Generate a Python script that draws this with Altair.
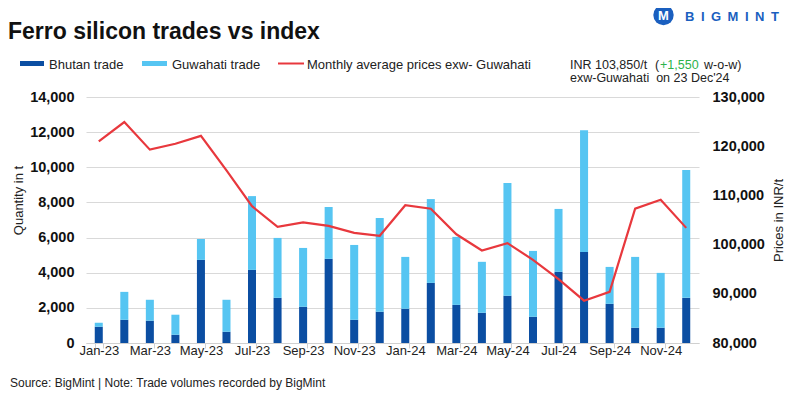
import altair as alt
import pandas as pd

months = ["Jan-23", "Feb-23", "Mar-23", "Apr-23", "May-23", "Jun-23",
          "Jul-23", "Aug-23", "Sep-23", "Oct-23", "Nov-23", "Dec-23",
          "Jan-24", "Feb-24", "Mar-24", "Apr-24", "May-24", "Jun-24",
          "Jul-24", "Aug-24", "Sep-24", "Oct-24", "Nov-24", "Dec-24"]
bhutan = [920, 1320, 1270, 470, 4730, 640, 4160, 2570, 2060, 4790, 1320, 1780,
          1950, 3420, 2170, 1720, 2690, 1490, 4050, 5180, 2230, 870, 870, 2570]
guwahati = [230, 1590, 1190, 1140, 1190, 1820, 4200, 3410, 3350, 2950, 4260, 5340,
            2950, 4770, 3870, 2900, 6410, 3750, 3580, 6930, 2100, 4030, 3120, 7270]
prices = [121000, 124900, 119300, 120500, 122100, 115100, 107800, 103600, 104500,
          103800, 102400, 101800, 108000, 107300, 102100, 98800, 100300, 96900,
          93000, 88600, 90400, 107300, 109100, 103400]
series = ["Bhutan trade", "Guwahati trade"]
colors = ["#0b4ea2", "#56c5f2"]
line_name = "Monthly average prices exw- Guwahati"
qty_ticks = [0, 2000, 4000, 6000, 8000, 10000, 12000, 14000]
price_ticks = [80000, 90000, 100000, 110000, 120000, 130000]

RED = "#e8383d"
FONT = "Liberation Sans"

rows = []
for i, m in enumerate(months):
    rows.append({"month": m, "series": series[0], "qty": bhutan[i], "ord": 0})
    rows.append({"month": m, "series": series[1], "qty": guwahati[i], "ord": 1})
bar_df = pd.DataFrame(rows)
line_df = pd.DataFrame({"month": months, "price": prices})
one = pd.DataFrame({"a": [0]})

x_enc = alt.X(
    "month:O", sort=months,
    scale=alt.Scale(paddingInner=0.686, paddingOuter=0.343),
    axis=alt.Axis(values=months[::2], labelAngle=0, title=None, tickBand="extent",
                  tickColor="#d0d0d0", tickSize=5, domainColor="#d0d0d0", grid=False,
                  labelFont=FONT, labelFontSize=13, labelColor="#222222",
                  labelBaseline="alphabetic", labelPadding=6),
)

bars = alt.Chart(bar_df).mark_bar().encode(
    x=x_enc,
    y=alt.Y("qty:Q", stack="zero",
            scale=alt.Scale(domain=[0, 14000], nice=False),
            axis=alt.Axis(values=qty_ticks, format=",.0f", ticks=False, domain=False,
                          grid=True, gridColor="#d9d9d9", labelFont=FONT,
                          labelFontSize=14.5, labelFontWeight="bold", labelColor="#111111",
                          labelPadding=12, title="Quantity in t", titleFont=FONT,
                          titleFontSize=13, titleFontWeight="normal", titleColor="#222222",
                          titleAngle=270, titleX=-64, titleY=103, titleAlign="center",
                          titleBaseline="alphabetic")),
    color=alt.Color("series:N", scale=alt.Scale(domain=series, range=colors), legend=None),
    order=alt.Order("ord:Q"),
)

line = alt.Chart(line_df).mark_line(color=RED, strokeWidth=2.2).encode(
    x=x_enc,
    y=alt.Y("price:Q", scale=alt.Scale(domain=[80000, 130000], nice=False),
            axis=alt.Axis(orient="right", values=price_ticks, format=",.0f", ticks=False,
                          domain=False, grid=False, labelFont=FONT, labelFontSize=14.5,
                          labelFontWeight="bold", labelColor="#111111", labelPadding=13,
                          title="Prices in INR/t", titleFont=FONT, titleFontSize=13,
                          titleFontWeight="normal", titleColor="#222222", titleAngle=270,
                          titleX=83, titleY=123, titleAlign="center",
                          titleBaseline="alphabetic")),
)


def txt(text, x, y, size=13, weight="normal", color="#222222", align="left",
        baseline="alphabetic"):
    return alt.Chart(one).mark_text(
        text=text, font=FONT, fontSize=size, fontWeight=weight, color=color,
        align=align, baseline=baseline,
    ).encode(x=alt.value(x), y=alt.value(y))


def rule(x1, x2, y, color, width):
    return alt.Chart(one).mark_rule(color=color, strokeWidth=width).encode(
        x=alt.value(x1), x2=alt.value(x2), y=alt.value(y))


deco = [
    txt("Ferro silicon trades vs index", -78, -58, size=23, weight="bold", color="#111111"),
    rule(-66, -42, -33.5, colors[0], 5),
    txt(series[0], -37, -28),
    rule(56, 81, -33.5, colors[1], 5),
    txt(series[1], 86, -28),
    rule(192, 218, -33.5, RED, 2),
    txt(line_name, 221, -28),
    txt("INR 103,850/t", 484, -28, size=12.5),
    txt("(", 569, -28, size=12.5),
    txt("+1,550", 574, -28, size=12.5, color="#2db34a"),
    txt("w-o-w)", 618, -28, size=12.5),
    txt("exw-Guwahati\u00a0\u00a0on 23 Dec'24", 484, -15.5, size=12.5),
    txt("Source: BigMint | Note: Trade volumes recorded by BigMint", -76, 290, size=12),
    alt.Chart(one).mark_point(shape="circle", filled=True, opacity=1, size=415,
                              color="#1a5fbf").encode(x=alt.value(577.5), y=alt.value(-82)),
    txt("M", 577.5, -77, size=13, weight="bold", color="white", align="center"),
    txt("B\u2002I\u2002G\u2002M\u2002I\u2002N\u2002T", 599, -76, size=13, weight="bold",
        color="#1a5fbf"),
]

chart = alt.layer(bars, line, *deco).resolve_scale(y="independent").properties(
    width=613, height=246,
    padding={"left": 78, "top": 89, "right": 93, "bottom": 47},
    autosize=alt.AutoSizeParams(type="none"),
    background="white",
).configure_view(stroke=None)

chart.save("out.html", embed_options={"renderer": "svg", "actions": False})
